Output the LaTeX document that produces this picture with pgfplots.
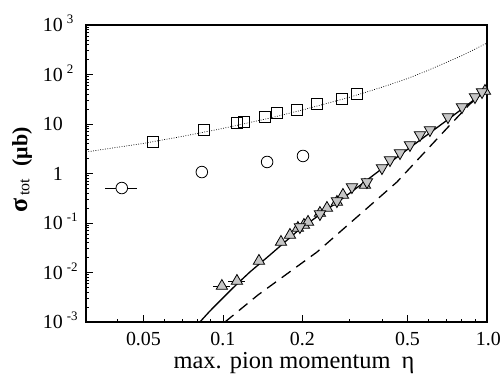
\documentclass[border=0pt]{standalone}
\usepackage{fontspec}
\setmainfont{Liberation Serif}
\usepackage{pgfplots}
\pgfplotsset{compat=1.18}
\newcommand\ep[1]{10\smash{\rlap{\hspace{4bp}\raisebox{8bp}{\fontsize{13}{13}\selectfont #1}}}}

\pgfplotstableread{
x y
0.0303 2.72
0.04 3.40
0.05 4.06
0.07 5.60
0.10 8.15
0.15 13.1
0.20 19.2
0.30 34.4
0.40 55.3
0.50 82.8
0.60 122
0.70 175
0.80 238
0.90 325
1.00 433
}\dottedcurve

\pgfplotstableread{
x y
0.0818 0.001
0.0893 0.00167
0.0991 0.00292
0.1110 0.00533
0.1265 0.01023
0.1507 0.0226
0.1957 0.0757
0.3029 0.404
0.4683 2.37
0.7243 13.2
1.0 48.6
}\solidcurve

\pgfplotstableread{
x y
0.1018 0.001
0.1357 0.00351
0.2271 0.0259
0.4560 0.673
0.7243 9.55
0.862 25.4
1.0 48.6
}\dashedcurve

\pgfplotstableread{
x y
0.0543 4.33
0.0847 7.56
0.113 10.5
0.120 10.9
0.144 13.8
0.160 16.7
0.191 19.2
0.227 25.4
0.283 32.0
0.322 40.4
}\squares

\pgfplotstableread{
x y
0.0832 1.07
0.147 1.71
0.201 2.26
}\circles

\pgfplotstableread{
x y
0.1369 0.0171
0.1659 0.0413
0.1794 0.0573
0.1923 0.0793
0.2027 0.0912
0.210 0.105
0.2330 0.159
0.2477 0.201
0.2702 0.266
0.2848 0.368
0.3451 0.586
0.9826 46.4
}\trup

\pgfplotstableread{
x y
0.1957 0.0830
0.2330 0.152
0.2702 0.278
0.3080 0.533
0.3511 0.673
0.4002 1.29
0.4292 1.87
0.4683 2.59
0.5108 3.77
0.5574 6.00
0.6081 7.56
0.7116 13.8
0.8039 22.0
0.9006 35.1
0.9574 44.3
}\trdown

\begin{document}
\begin{tikzpicture}
\useasboundingbox (-86bp,-52bp) rectangle (416bp,322bp);
\begin{axis}[
  at={(0,0)}, anchor=south west,
  scale only axis, width=401bp, height=297bp,
  xmode=log, ymode=log,
  xmin=0.0303, xmax=1.0, ymin=1e-3, ymax=1e3,
  xtick={0.05,0.1,0.2,0.5,1},
  xticklabels={0.05,0.1,0.2,0.5,\makebox[0pt][l]{\hspace{-11bp}1.0}},
  minor xtick={0.03,0.04,0.06,0.07,0.08,0.09,0.3,0.4,0.6,0.7,0.8,0.9},
  ytick={1e-3,1e-2,1e-1,1,10,100,1000},
  yticklabels={\ep{-3},\ep{-2},\ep{-1},1,10,\ep{2},\ep{3}},
  minor ytick={2e-3,3e-3,4e-3,5e-3,6e-3,7e-3,8e-3,9e-3,
    0.02,0.03,0.04,0.05,0.06,0.07,0.08,0.09,
    0.2,0.3,0.4,0.5,0.6,0.7,0.8,0.9,
    2,3,4,5,6,7,8,9,20,30,40,50,60,70,80,90,
    200,300,400,500,600,700,800,900},
  tick pos=left, tick align=inside,
  major tick length=7bp, minor tick length=3.5bp,
  axis line style={line width=1.2bp},
  every tick/.style={black, line width=0.8bp},
  ticklabel style={font=\fontsize{20}{24}\selectfont},
  yticklabel style={inner sep=0pt, anchor=east, xshift=-23bp},
  xticklabel style={inner sep=0pt, anchor=north, yshift=-10bp},
  every axis x label/.style={at={([xshift=7.5bp,yshift=-46.5bp]axis description cs:0.5,0)}, anchor=base},
  every axis y label/.style={at={([xshift=-58.5bp,yshift=3.5bp]axis description cs:0,0.5)}, rotate=90, anchor=base},
  xlabel={\fontsize{24.5}{28}\selectfont max. pion momentum\hspace{0.45em}η},
  ylabel={{\bfseries\fontsize{26}{26}\selectfont σ}\hspace{3bp}\raisebox{-2bp}{\fontsize{16}{16}\selectfont tot}\hspace{12bp}{\bfseries\fontsize{22}{22}\selectfont (μb)}},
]
\addplot[black, line width=1.3bp, dash pattern=on 11bp off 7bp] table {\dashedcurve};
\addplot[black, line width=1.3bp] table {\solidcurve};
\addplot[black, line width=0.7bp, dash pattern=on 0.8bp off 1.6bp] table {\dottedcurve};
\addplot[only marks, mark=square, mark size=5.5bp, mark options={black, line width=0.8bp}] table {\squares};
\addplot[only marks, mark=*, mark size=5.8bp, mark options={draw=black, fill=white, line width=0.8bp}] table {\circles};
\addplot[only marks, mark=*, mark size=5.8bp, mark options={draw=black, fill=white, line width=0.8bp},
  error bars/.cd, x dir=both, x explicit, error mark=none, error bar style={black, line width=1bp}]
  coordinates {(0.0414,0.509) +- (0.0057,0)};
\addplot[only marks, mark=triangle*, mark size=6.5bp, mark options={draw=black, fill=gray!45, line width=0.8bp},
  error bars/.cd, x dir=both, x explicit, error mark=none, error bar style={black, line width=1bp}]
  coordinates {(0.0991,0.00533) +- (0.0072,0) (0.1130,0.00673) +- (0.0081,0)};
\addplot[only marks, mark=triangle*, mark size=6.5bp, mark options={draw=black, fill=gray!45, line width=0.8bp}] table {\trup};
\addplot[only marks, mark=triangle*, mark size=6.5bp, mark options={draw=black, fill=gray!45, line width=0.8bp, rotate=180}] table {\trdown};
\end{axis}
\end{tikzpicture}
\end{document}
